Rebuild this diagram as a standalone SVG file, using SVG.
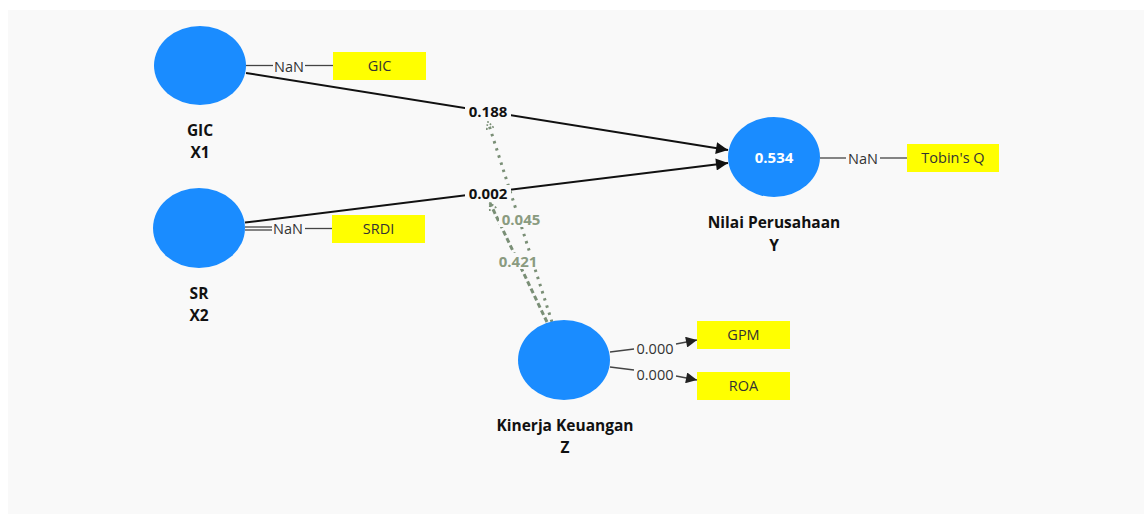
<svg xmlns="http://www.w3.org/2000/svg" width="1144" height="514" viewBox="0 0 1144 514">
<style>
.lv{fill:#1a8cff}
.ind{fill:#ffff00}
.nm{font-family:"Open Sans","Noto Sans",sans-serif;font-weight:bold;font-size:15.5px;fill:#111;text-anchor:middle}
.it{font-family:"Open Sans","Noto Sans",sans-serif;font-size:14.5px;fill:#333;text-anchor:middle}
.pl{font-family:"Open Sans","Noto Sans",sans-serif;font-weight:bold;font-size:15px;fill:#111;text-anchor:middle}
.ml{font-family:"Open Sans","Noto Sans",sans-serif;font-weight:bold;font-size:15px;fill:#8a9b80;text-anchor:middle}
.path{stroke:#111;stroke-width:2;fill:none}
.load{stroke:#444;stroke-width:1.3;fill:none}
.mod{stroke:#7a8f76;stroke-width:3;fill:none}
.bg{fill:#f9f9f9}
</style>
<defs>
<marker id="ahb" viewBox="0 0 10 10" refX="10" refY="5" markerWidth="15" markerHeight="12" orient="auto" markerUnits="userSpaceOnUse">
<path d="M0,0 L10,5 L0,10 z" fill="#111"/>
</marker>
<marker id="ahs" viewBox="0 0 10 10" refX="10" refY="5" markerWidth="14" markerHeight="11" orient="auto" markerUnits="userSpaceOnUse">
<path d="M0,0 L10,5 L0,10 z" fill="#222"/>
</marker>
<marker id="ahm" viewBox="0 0 10 10" refX="9" refY="5" markerWidth="9" markerHeight="9" orient="auto" markerUnits="userSpaceOnUse">
<path d="M1,1 Q6,3 9,5 Q6,7 1,9" fill="none" stroke="#7a8f76" stroke-width="1.8" stroke-dasharray="2,2"/>
</marker>
</defs>
<rect x="0" y="0" width="1144" height="514" fill="#ffffff"/>
<rect x="8" y="10" width="1136" height="504" class="bg"/>

<g id="connectors">
<line class="path" x1="246" y1="73" x2="728" y2="150" marker-end="url(#ahb)"/>
<line class="path" x1="245" y1="222.5" x2="728" y2="163" marker-end="url(#ahb)"/>
<line class="load" x1="246" y1="65.5" x2="273" y2="65.5"/>
<line class="load" x1="305" y1="65.5" x2="333" y2="65.5"/>
<line class="load" x1="245" y1="227" x2="272" y2="227"/>
<line class="load" x1="245" y1="230" x2="272" y2="230"/>
<line class="load" x1="305" y1="228.5" x2="332" y2="228.5"/>
<line class="load" x1="820" y1="158" x2="846" y2="158"/>
<line class="load" x1="880" y1="158" x2="907" y2="158"/>
<line class="load" x1="610" y1="352" x2="634" y2="349"/>
<line class="load" x1="676" y1="344" x2="697" y2="340" marker-end="url(#ahs)"/>
<line class="load" x1="610" y1="367" x2="634" y2="370"/>
<line class="load" x1="676" y1="376" x2="697" y2="380" marker-end="url(#ahs)"/>
<line class="mod" x1="552" y1="322" x2="488" y2="122" stroke-dasharray="2.5,5" marker-end="url(#ahm)"/>
<line class="mod" x1="547" y1="322" x2="490" y2="203" stroke-dasharray="5,3" marker-end="url(#ahm)"/>
<rect class="bg" x="465" y="103" width="46" height="17"/>
<text class="pl" x="488" y="116.5">0.188</text>
<rect class="bg" x="465" y="185" width="46" height="17"/>
<text class="pl" x="488" y="198.5">0.002</text>
<rect class="bg" x="499" y="211" width="44" height="16"/>
<text class="ml" x="521" y="224.5">0.045</text>
<rect class="bg" x="496" y="253" width="44" height="16"/>
<text class="ml" x="518" y="266.5">0.421</text>
<text class="it" x="289" y="71.5">NaN</text>
<text class="it" x="288" y="234">NaN</text>
<text class="it" x="863" y="164">NaN</text>
<text class="it" x="655" y="353.5">0.000</text>
<text class="it" x="655" y="379.5">0.000</text>
</g>

<g id="node-gic">
<ellipse class="lv" cx="200" cy="65.5" rx="46" ry="39.5"/>
<text class="nm" x="200" y="135.5">GIC</text>
<text class="nm" x="200" y="157.5">X1</text>
</g>
<g id="node-sr">
<ellipse class="lv" cx="199" cy="228" rx="46" ry="40"/>
<text class="nm" x="199" y="298.5">SR</text>
<text class="nm" x="199" y="320.5">X2</text>
</g>
<g id="node-y">
<ellipse class="lv" cx="774" cy="157" rx="46" ry="40"/>
<text class="nm" x="774" y="163" style="fill:#ffffff;font-size:15px">0.534</text>
<text class="nm" x="774" y="227.5">Nilai Perusahaan</text>
<text class="nm" x="774" y="250.5">Y</text>
</g>
<g id="node-z">
<ellipse class="lv" cx="564" cy="360" rx="46" ry="40"/>
<text class="nm" x="565" y="430.5">Kinerja Keuangan</text>
<text class="nm" x="565" y="452.5">Z</text>
</g>
<g id="ind-gic">
<rect class="ind" x="333" y="52" width="93" height="28"/>
<text class="it" x="379.5" y="71">GIC</text>
</g>
<g id="ind-srdi">
<rect class="ind" x="332" y="215" width="93" height="28"/>
<text class="it" x="378.5" y="234">SRDI</text>
</g>
<g id="ind-tobin">
<rect class="ind" x="907" y="144" width="92" height="28"/>
<text class="it" x="953" y="163">Tobin's Q</text>
</g>
<g id="ind-gpm">
<rect class="ind" x="697" y="321" width="93" height="28"/>
<text class="it" x="743.5" y="340">GPM</text>
</g>
<g id="ind-roa">
<rect class="ind" x="697" y="372" width="93" height="28"/>
<text class="it" x="743.5" y="391">ROA</text>
</g>
</svg>
